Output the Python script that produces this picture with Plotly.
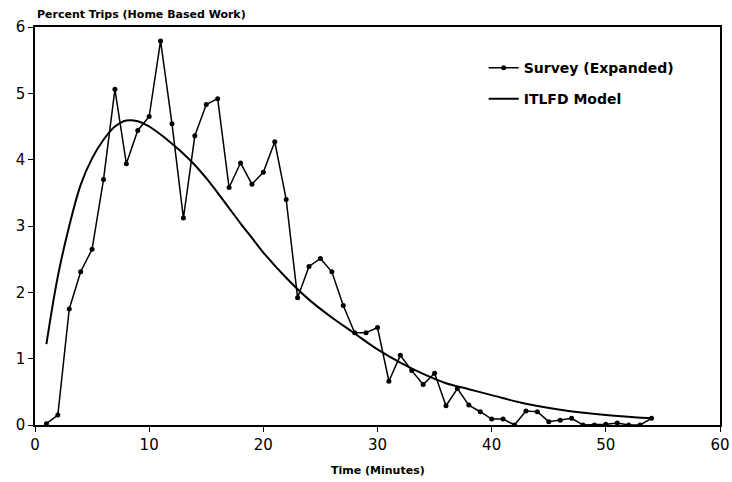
import plotly.graph_objects as go

survey_x = list(range(1, 55))
survey_y = [0.02, 0.15, 1.75, 2.31, 2.65, 3.70, 5.06, 3.94, 4.44, 4.65,
            5.79, 4.54, 3.12, 4.36, 4.83, 4.92, 3.58, 3.95, 3.63, 3.81,
            4.27, 3.40, 1.92, 2.39, 2.51, 2.31, 1.80, 1.39, 1.39, 1.47,
            0.66, 1.05, 0.82, 0.61, 0.78, 0.29, 0.55, 0.30, 0.20, 0.09,
            0.09, 0.00, 0.21, 0.20, 0.05, 0.07, 0.10, 0.00, 0.00, 0.01,
            0.03, 0.00, 0.00, 0.10]

model_x = [1, 2, 3, 4, 5, 6, 7, 8, 9, 10, 11, 12, 13, 14, 15, 16, 17, 18,
           19, 20, 22, 24, 26, 28, 30, 32, 34, 36, 38, 40, 43, 46, 50, 54]
model_y = [1.22, 2.24, 3.00, 3.62, 4.02, 4.30, 4.50, 4.59, 4.58, 4.50, 4.38,
           4.24, 4.09, 3.92, 3.72, 3.50, 3.27, 3.04, 2.82, 2.60, 2.22, 1.89,
           1.62, 1.38, 1.14, 0.94, 0.77, 0.63, 0.54, 0.45, 0.32, 0.23, 0.15,
           0.10]

x_ticks = [0, 10, 20, 30, 40, 50, 60]
y_ticks = [0, 1, 2, 3, 4, 5, 6]

font_family = "DejaVu Sans"

fig = go.Figure()
fig.add_trace(go.Scatter(
    x=survey_x, y=survey_y, mode="lines+markers", name="Survey (Expanded)",
    legendgroup="s",
    line=dict(color="black", width=1.5),
    marker=dict(color="black", size=5, symbol="circle"),
))
fig.add_trace(go.Scatter(
    x=model_x, y=model_y, mode="lines", name="ITLFD Model",
    legendgroup="m",
    line=dict(color="black", width=2, shape="spline", smoothing=1.0),
))

fig.update_layout(
    width=732, height=482,
    margin=dict(l=35, r=12, t=27, b=57),
    paper_bgcolor="white", plot_bgcolor="white",
    font=dict(family=font_family, color="black"),
    showlegend=True,
    legend=dict(
        x=0.655, y=0.937, xanchor="left", yanchor="top",
        bgcolor="rgba(0,0,0,0)", borderwidth=0,
        font=dict(family=font_family, size=14, color="black", weight="bold"),
        tracegroupgap=10, itemwidth=30,
    ),
    xaxis=dict(
        range=[0, 60], tickvals=x_ticks, ticktext=[str(v) for v in x_ticks],
        showgrid=False, zeroline=False, showline=True, linecolor="black",
        linewidth=1.5, mirror=True, ticks="outside", ticklen=5,
        tickcolor="black", tickfont=dict(size=15, family=font_family),
        automargin=False,
    ),
    yaxis=dict(
        range=[0, 6], tickvals=y_ticks, ticktext=[str(v) for v in y_ticks],
        showgrid=False, zeroline=False, showline=True, linecolor="black",
        linewidth=1.5, mirror=True, ticks="outside", ticklen=5,
        tickcolor="black", tickfont=dict(size=15, family=font_family),
        automargin=False,
    ),
    annotations=[
        dict(text="Percent Trips (Home Based Work)", xref="paper", yref="paper",
             x=0.0, y=1.0, yshift=13, xanchor="left", yanchor="middle",
             showarrow=False,
             font=dict(size=11, family=font_family, color="black", weight="bold")),
        dict(text="Time (Minutes)", xref="paper", yref="paper",
             x=0.5, y=0, yshift=-45, xanchor="center", yanchor="middle",
             showarrow=False,
             font=dict(size=11, family=font_family, color="black", weight="bold")),
    ],
)

# remove the default 8px page margin so the 732x482 figure fills the window
fig.write_html(
    "out.html",
    config={"displayModeBar": False},
    post_script="document.body.style.margin='0';document.body.style.overflow='hidden';",
)
